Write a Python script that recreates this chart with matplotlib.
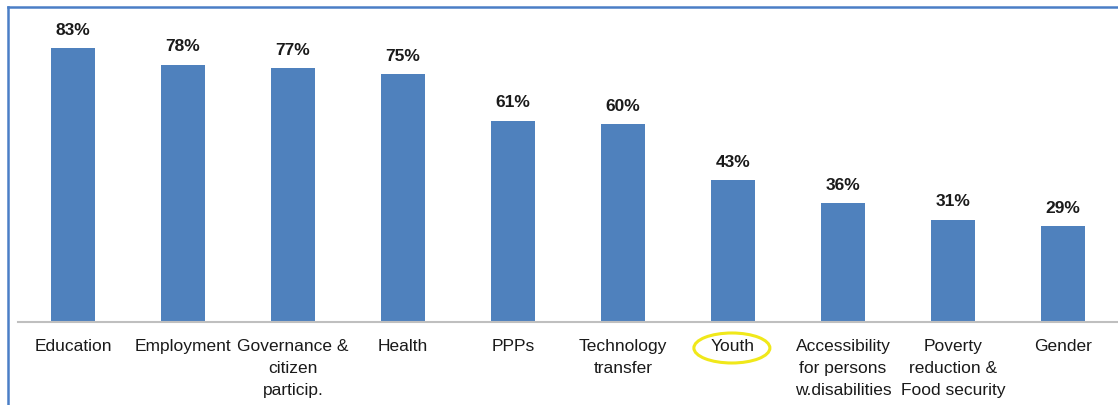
import matplotlib
matplotlib.use('Agg')
import matplotlib.pyplot as plt
from matplotlib.patches import Ellipse
from matplotlib.lines import Line2D

categories = ['Education', 'Employment', 'Governance &\ncitizen\nparticip.', 'Health', 'PPPs',
              'Technology\ntransfer', 'Youth', 'Accessibility\nfor persons\nw.disabilities',
              'Poverty\nreduction &\nFood security', 'Gender']
values = [83, 78, 77, 75, 61, 60, 43, 36, 31, 29]
highlight = 'Youth'

W, H = 1118, 405
fig = plt.figure(figsize=(W / 100, H / 100), dpi=100)
fig.patch.set_facecolor('white')

# axes placed in pixel units
ax = fig.add_axes([18 / W, 83 / H, 1100 / W, 297 / H])
x = list(range(len(categories)))
ax.bar(x, values, width=0.4, color='#4F81BD')
ax.set_xlim(-0.5, 9.5)
ax.set_ylim(0, 90)

for xi, v in zip(x, values):
    ax.text(xi, v + 3.1, '%d%%' % v, ha='center', va='bottom', fontsize=12.5,
            fontweight='bold', family='Liberation Sans', color='#1a1a1a')

ax.set_xticks(x)
ax.set_xticklabels(categories, fontsize=12.5, family='Liberation Sans', color='#1a1a1a',
                   linespacing=1.58, va='top')
ax.tick_params(axis='x', length=0, pad=12)
ax.set_yticks([])
for s in ['top', 'right', 'left']:
    ax.spines[s].set_visible(False)
ax.spines['bottom'].set_color('#BFBFBF')
ax.spines['bottom'].set_linewidth(1.5)

# yellow ellipse around highlighted label
i = categories.index(highlight)
xc = ax.transData.transform((i, 0))[0]
fig.patches.append(Ellipse((xc / W - 0.001, (H - 348) / H), 76 / W, 30 / H,
                           transform=fig.transFigure, fill=False,
                           edgecolor='#F0E81A', linewidth=2.2))

# outer frame (left and top)
fig.lines.append(Line2D([7.5 / W, 7.5 / W], [0, (H - 6.5) / H], transform=fig.transFigure,
                        color='#4A7EC6', linewidth=1.8))
fig.lines.append(Line2D([7.5 / W, 1], [(H - 6.5) / H, (H - 6.5) / H], transform=fig.transFigure,
                        color='#4A7EC6', linewidth=1.8))

fig.savefig('out.png', dpi=100)
